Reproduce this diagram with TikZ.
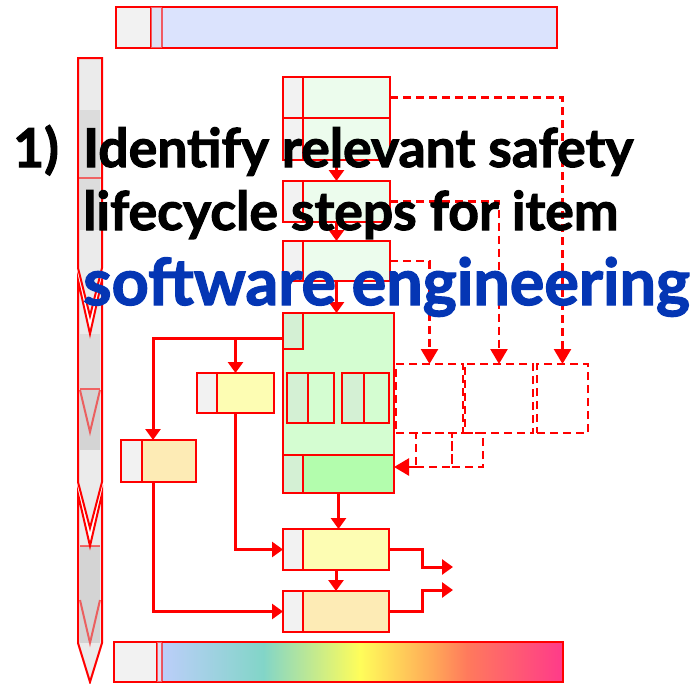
\documentclass[tikz,border=0pt]{standalone}
\usepackage{fontspec}
\setmainfont{Lato}
\newfontfamily\headfont{Lato}[BoldFeatures={FakeBold=2}]
\usetikzlibrary{arrows.meta}

\definecolor{boxred}{HTML}{FF0000}
\definecolor{tabgray}{HTML}{F2F2F2}
\definecolor{barblue}{HTML}{DBE3FD}
\definecolor{barcell}{HTML}{DDE1F4}
\definecolor{steplight}{HTML}{ECFCED}
\definecolor{biggreen}{HTML}{D4FDD1}
\definecolor{graygreen}{HTML}{D4F0D4}
\definecolor{brightgreen}{HTML}{B3FDAD}
\definecolor{softyellow}{HTML}{FDFDB3}
\definecolor{softorange}{HTML}{FDEBB5}
\definecolor{barlight}{HTML}{EBEBEB}
\definecolor{bardark}{HTML}{DCDCDC}
\definecolor{bardarker}{HTML}{D4D4D4}
\definecolor{textblue}{HTML}{0436B4}
\definecolor{gA}{HTML}{BCCEFA}
\definecolor{gB}{HTML}{82D5C8}
\definecolor{gC}{HTML}{FFFD5A}
\definecolor{gD}{HTML}{FFA858}
\definecolor{gE}{HTML}{FF7A5C}
\definecolor{gF}{HTML}{FF3A8A}

\pgfdeclarehorizontalshading{rainbowbar}{100bp}{%
  color(0bp)=(gA); color(30.3bp)=(gA); color(41.6bp)=(gB); color(52.4bp)=(gC);
  color(60.5bp)=(gD); color(64.3bp)=(gE); color(75bp)=(gF); color(100bp)=(gF)}

\tikzset{
  frame/.style={draw=boxred, line width=2pt, inner sep=0pt, outer sep=0pt, anchor=north west},
  conn/.style={draw=boxred, line width=3pt, -{Triangle[width=15pt,length=11pt]}},
  dconn/.style={draw=boxred, line width=2.5pt, dash pattern=on 8pt off 5pt,
    -{Triangle[width=17pt,length=15pt]}},
  dbox/.style={draw=boxred, line width=2.5pt, dash pattern=on 8pt off 5pt,
    inner sep=0pt, outer sep=0pt, anchor=north west},
  headline/.style={anchor=base west, inner sep=0pt, font=\headfont\fontsize{53.5}{53.5}\selectfont\bfseries},
  barline/.style={draw=boxred, line width=2pt, line join=miter},
  faintline/.style={draw=boxred, draw opacity=0.55, line width=2pt},
}

% box with a narrow grey tab on its left side
\newcommand{\tabbox}[8]{%
  \node[frame, fill=#6, minimum width=#4pt, minimum height=#5pt] (#1) at (#2,#3) {};
  \node[frame, fill=#7, minimum width=#8pt, minimum height=#5pt] (#1-tab) at (#2,#3) {};
}

\begin{document}
\begin{tikzpicture}[x=1pt, y=-1pt]
\useasboundingbox (0,0) rectangle (696,683);

% ---- top bar
\node[frame, fill=barblue, minimum width=441pt, minimum height=41pt] (topbar) at (116,7) {};
\node[frame, fill=tabgray, minimum width=35pt, minimum height=41pt] (topbar-tab) at (116,7) {};
\node[frame, fill=barcell, draw opacity=0.6, minimum width=11pt, minimum height=41pt] (topbar-cell) at (151,7) {};

% ---- left phase bar: three arrow-shaped segments
\fill[barlight] (78,58) -- (102,58) -- (102,268) -- (90,316) -- (78,268) -- cycle;
\fill[bardark] (80,110) rectangle (100,230);
\draw[faintline] (79,178) -- (101,178);
\draw[barline] (78,58) -- (102,58) -- (102,268) -- (90,316) -- (78,268) -- cycle;

\fill[barlight] (78,280) -- (90,334) -- (102,280) -- (102,482) -- (90,528) -- (78,482) -- cycle;
\fill[bardark] (80,334) rectangle (100,450);
\fill[bardarker] (80,390) rectangle (100,450);
\draw[faintline] (80,389) -- (100,389);
\draw[faintline] (80,390) -- (90,432) -- (100,390);
\draw[barline] (78,280) -- (90,334) -- (102,280) -- (102,482) -- (90,528) -- (78,482) -- cycle;

\fill[barlight] (78,494) -- (90,546) -- (102,494) -- (102,643) -- (90,682) -- (78,643) -- cycle;
\fill[bardarker] (80,546) rectangle (100,643);
\draw[faintline] (80,546) -- (100,546);
\draw[faintline] (80,600) -- (90,643) -- (100,600);
\draw[barline] (78,494) -- (90,546) -- (102,494) -- (102,643) -- (90,682) -- (78,643) -- cycle;

% ---- step column
\tabbox{b1}{283}{77}{107}{41}{steplight}{tabgray}{20}
\tabbox{b2}{283}{118}{107}{42}{steplight}{tabgray}{20}
\tabbox{b3}{283}{181}{107}{41}{steplight}{tabgray}{20}
\tabbox{b4}{283}{241}{107}{40}{steplight}{tabgray}{20}

% ---- large block
\node[frame, fill=biggreen, minimum width=111pt, minimum height=180pt] (big) at (283,313) {};
\node[frame, fill=graygreen, minimum width=20pt, minimum height=36pt] (big-tab) at (283,313) {};
\node[frame, fill=graygreen, minimum width=21pt, minimum height=50pt] (p1) at (287,373) {};
\node[frame, fill=biggreen, minimum width=26pt, minimum height=50pt] (p2) at (308,373) {};
\node[frame, fill=graygreen, minimum width=22pt, minimum height=50pt] (p3) at (342,373) {};
\node[frame, fill=biggreen, minimum width=25pt, minimum height=50pt] (p4) at (364,373) {};
\tabbox{row}{283}{455}{111}{38}{brightgreen}{graygreen}{20}

% ---- side boxes
\tabbox{yb}{197}{373}{77}{40}{softyellow}{tabgray}{20}
\tabbox{ob}{121}{440}{75}{42}{softorange}{tabgray}{21}
\tabbox{y2}{283}{529}{106}{41}{softyellow}{tabgray}{20}
\tabbox{o2}{283}{591}{106}{41}{softorange}{tabgray}{20}

% ---- dashed boxes
\node[dbox, minimum width=67pt, minimum height=69pt] (dA) at (396,364) {};
\node[dbox, minimum width=68pt, minimum height=69pt] (dB) at (465,364) {};
\node[dbox, minimum width=51pt, minimum height=69pt] (dC) at (537,364) {};
\node[dbox, minimum width=36pt, minimum height=34pt] (dD) at (416,433) {};
\node[dbox, minimum width=31pt, minimum height=34pt] (dE) at (452,433) {};

% ---- bottom bar
\node[frame, shading=rainbowbar, minimum width=449pt, minimum height=40pt] (botbar) at (114,642) {};
\node[frame, fill=tabgray, minimum width=43pt, minimum height=40pt] (botbar-tab) at (114,642) {};
\node[frame, fill=barcell, draw opacity=0.6, minimum width=5pt, minimum height=40pt] (botbar-cell) at (157,642) {};

% ---- solid connectors
\draw[conn] (b2.south) -- (b3.north);
\draw[conn] (b3.south) -- (b4.north);
\draw[conn] (b4.south) -- (b4.south |- big.north);
\draw[conn] (big.south) -- (big.south |- y2.north);
\draw[conn] (y2.south) -- (o2.north);

\coordinate (split) at (153,338);
\draw[conn] (big.west |- split) -- (split) -- (split |- ob.north);
\draw[conn] (yb.north |- split) -- (yb.north);
\draw[conn] (yb.south) |- (y2.west);
\draw[conn] (split |- ob.south) |- (o2.west);

\coordinate (out1) at (453,567);
\coordinate (out2) at (453,590);
\draw[conn] (y2.east) -- (422,549.5) |- (out1);
\draw[conn] (o2.east) -- (422,611.5) |- (out2);

% ---- dashed connectors
\draw[dconn] (b1.east) -| (dC.north);
\draw[dconn] (b3.east) -| (dB.north);
\draw[dconn] (b4.east) -| (dA.north);
\draw[dconn] (dD.south west) -- (row.east |- dD.south west);

% ---- heading text
\node[headline] (num) at (13,167) {1)};
\node[headline] (line1) at (83,167) {Identify relevant safety};
\node[headline] (line2) at (83,230) {lifecycle steps for item};
\node[headline, font=\headfont\fontsize{64.7}{64.7}\selectfont\bfseries, text=textblue] (line3) at (83,305) {software engineering};
\end{tikzpicture}
\end{document}
